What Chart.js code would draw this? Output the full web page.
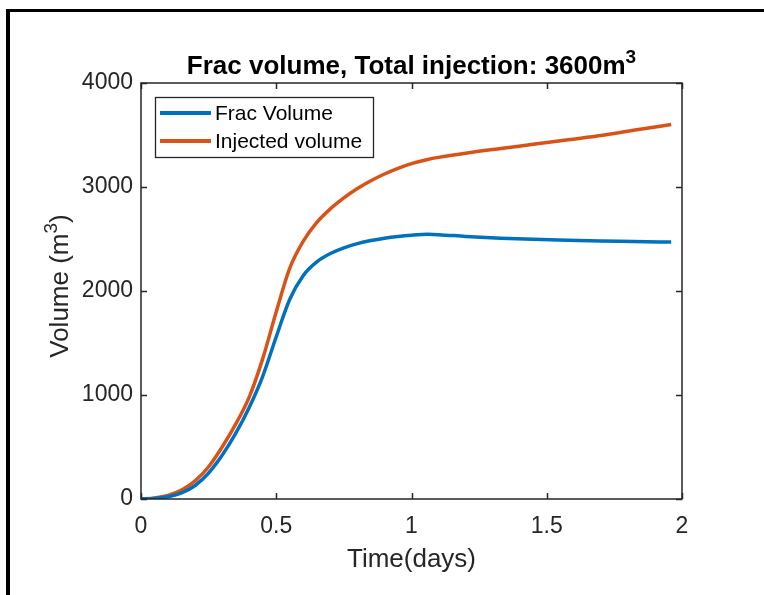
<!DOCTYPE html>
<html>
<head>
<meta charset="utf-8">
<script src="https://cdn.jsdelivr.net/npm/chart.js@4/dist/chart.umd.min.js"></script>
<style>
  html, body { margin: 0; padding: 0; background: #fff; }
  #chart { display: block; }
</style>
</head>
<body>
<canvas id="chart" width="764" height="595"></canvas>
<script>
// time in days
const timeDays = [0, 0.05, 0.1, 0.15, 0.2, 0.25, 0.3, 0.35, 0.4, 0.45, 0.5, 0.55, 0.6, 0.65, 0.7, 0.75, 0.8, 0.85, 0.9, 0.95, 1.0, 1.06, 1.1, 1.2, 1.33, 1.45, 1.58, 1.7, 1.82, 1.96];
const fracVolume = [0, 6, 22, 58, 130, 250, 420, 630, 880, 1180, 1560, 1920, 2150, 2280, 2360, 2415, 2455, 2485, 2508, 2525, 2537, 2545, 2542, 2525, 2508, 2497, 2488, 2480, 2476, 2470];
const injectedVolume = [0, 10, 35, 85, 175, 310, 500, 720, 980, 1350, 1800, 2220, 2480, 2660, 2790, 2895, 2985, 3060, 3125, 3180, 3225, 3265, 3285, 3325, 3370, 3410, 3455, 3495, 3545, 3600];
const seriesNames = ["Frac Volume", "Injected volume"];
const seriesColors = ["#0072BD", "#D95319"];
const xTicks = [0, 0.5, 1, 1.5, 2];
const yTicks = [0, 1000, 2000, 3000, 4000];

const AXIS = "#262626";
const FONT = "'Liberation Sans', Arial, sans-serif";

function toPoints(ys) {
  return timeDays.map((t, i) => ({ x: t, y: ys[i] }));
}

// main text + raised superscript + optional tail, centred on x
function drawSup(ctx, x, y, main, sup, tail, size, supSize, weight, rise) {
  const f = (s) => weight + " " + s + "px " + FONT;
  ctx.font = f(size);
  const w1 = ctx.measureText(main).width;
  const w3 = tail ? ctx.measureText(tail).width : 0;
  ctx.font = f(supSize);
  const w2 = ctx.measureText(sup).width;
  const start = x - (w1 + w2 + w3) / 2;
  ctx.textAlign = "left";
  ctx.font = f(size);
  ctx.fillText(main, start, y);
  if (tail) ctx.fillText(tail, start + w1 + w2, y);
  ctx.font = f(supSize);
  ctx.fillText(sup, start + w1, y - rise);
}

const matlabLook = {
  id: "matlabLook",
  beforeDraw(chart) {
    const ctx = chart.ctx;
    ctx.save();
    ctx.fillStyle = "#fff";
    ctx.fillRect(0, 0, chart.width, chart.height);
    // page frame
    ctx.fillStyle = "#000";
    ctx.fillRect(6, 9, 4, chart.height - 9);
    ctx.fillRect(6, 9, chart.width - 6, 3);
    ctx.restore();
  },
  afterDatasetsDraw(chart) {
    const ctx = chart.ctx;
    const a = chart.chartArea;
    const xs = chart.scales.x, ys = chart.scales.y;
    ctx.save();
    ctx.strokeStyle = AXIS;
    ctx.lineWidth = 1.5;
    ctx.strokeRect(a.left, a.top, a.right - a.left, a.bottom - a.top);
    ctx.beginPath();
    xTicks.forEach(v => {
      const px = Math.round(xs.getPixelForValue(v)) + 0.5;
      ctx.moveTo(px, a.bottom); ctx.lineTo(px, a.bottom - 6);
      ctx.moveTo(px, a.top); ctx.lineTo(px, a.top + 6);
    });
    yTicks.forEach(v => {
      const py = Math.round(ys.getPixelForValue(v)) + 0.5;
      ctx.moveTo(a.left, py); ctx.lineTo(a.left + 6, py);
      ctx.moveTo(a.right, py); ctx.lineTo(a.right - 6, py);
    });
    ctx.stroke();

    // legend
    const lx = 155, ly = 97, lw = 218, lh = 60;
    ctx.fillStyle = "#fff";
    ctx.fillRect(lx, ly, lw, lh);
    ctx.strokeStyle = AXIS;
    ctx.lineWidth = 1.3;
    ctx.strokeRect(lx + 0.5, ly + 0.5, lw, lh);
    ctx.font = "21px " + FONT;
    ctx.textBaseline = "middle";
    ctx.textAlign = "left";
    seriesNames.forEach((name, i) => {
      const y = ly + 16 + i * 28;
      ctx.strokeStyle = seriesColors[i];
      ctx.lineWidth = 4;
      ctx.beginPath();
      ctx.moveTo(lx + 5, y); ctx.lineTo(lx + 56, y);
      ctx.stroke();
      ctx.fillStyle = "#000";
      ctx.fillText(name, lx + 60, y + 1);
    });

    // title
    ctx.fillStyle = "#000";
    ctx.textBaseline = "alphabetic";
    const cx = (a.left + a.right) / 2;
    drawSup(ctx, cx, 74, "Frac volume, Total injection: 3600m", "3", "", 26, 19, "bold", 11);

    // x axis title
    ctx.fillStyle = AXIS;
    ctx.font = "26px " + FONT;
    ctx.textAlign = "center";
    ctx.fillText("Time(days)", cx, 567);

    // y axis title
    ctx.save();
    ctx.translate(68, 286);
    ctx.rotate(-Math.PI / 2);
    ctx.fillStyle = AXIS;
    drawSup(ctx, 0, 0, "Volume (m", "3", ")", 26, 19, "normal", 11);
    ctx.restore();

    ctx.restore();
  }
};

const ctx = document.getElementById("chart").getContext("2d");
new Chart(ctx, {
  type: "line",
  data: {
    datasets: [
      {
        label: seriesNames[0],
        data: toPoints(fracVolume),
        borderColor: seriesColors[0],
        borderWidth: 3.5,
        pointRadius: 0,
        fill: false,
        cubicInterpolationMode: "monotone",
      },
      {
        label: seriesNames[1],
        data: toPoints(injectedVolume),
        borderColor: seriesColors[1],
        borderWidth: 3.5,
        pointRadius: 0,
        fill: false,
        cubicInterpolationMode: "monotone",
      },
    ],
  },
  options: {
    responsive: false,
    animation: false,
    layout: { padding: { top: 83, right: 82, left: 0, bottom: 0 } },
    plugins: {
      legend: { display: false },
      title: { display: false },
      tooltip: { enabled: false },
    },
    scales: {
      x: {
        type: "linear",
        min: 0,
        max: 2,
        grid: { display: false },
        border: { display: false },
        afterBuildTicks: (s) => { s.ticks = xTicks.map(v => ({ value: v })); },
        afterFit: (s) => { s.height = 96; },
        ticks: {
          padding: 6,
          color: AXIS,
          font: { family: FONT, size: 23 },
          callback: (v) => String(v),
        },
      },
      y: {
        type: "linear",
        min: 0,
        max: 4000,
        grid: { display: false },
        border: { display: false },
        afterBuildTicks: (s) => { s.ticks = yTicks.map(v => ({ value: v })); },
        afterFit: (s) => { s.width = 141; },
        ticks: {
          padding: 0,
          color: AXIS,
          font: { family: FONT, size: 23 },
          callback: (v) => String(v),
        },
      },
    },
  },
  plugins: [matlabLook],
});
</script>
</body>
</html>
